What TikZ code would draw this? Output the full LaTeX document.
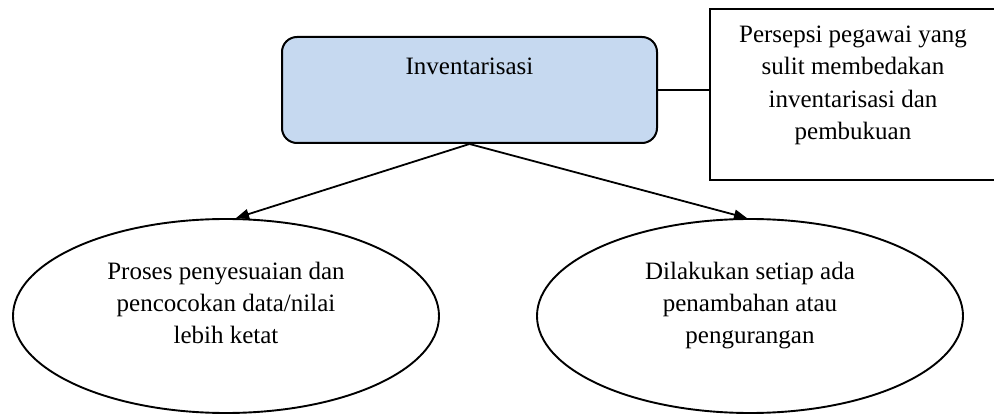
\documentclass[tikz,border=0pt]{standalone}
\usepackage{fontspec}
\setmainfont{Liberation Serif}
\usetikzlibrary{arrows.meta,shapes.geometric,calc}
\definecolor{boxblue}{RGB}{198,217,240}
\begin{document}
\begin{tikzpicture}[x=1pt,y=-1pt,
  every node/.style={font=\fontsize{25}{32.5}\selectfont, inner sep=0pt},
  line/.style={line width=2pt, draw=black},
  arr/.style={line width=1.8pt, draw=black, -{Triangle[length=13pt,width=10pt]}},
  mainbox/.style={rectangle, rounded corners=15pt, draw=black, line width=2pt, fill=boxblue,
    minimum width=375pt, minimum height=106pt, text height=38pt, text depth=68pt},
  notebox/.style={rectangle, minimum width=286pt, align=center, text height=131pt, text depth=40pt},
  oval/.style={ellipse, draw=black, line width=1.9pt, minimum width=426pt, minimum height=194pt,
    align=center, text height=82pt, text depth=26pt}
]
\useasboundingbox (0,0) rectangle (994,414);
\node[mainbox] (inv) at (469.5,90) {Inventarisasi};
\node[notebox] (bx) at (853,94.5) {Persepsi pegawai yang\\sulit membedakan\\inventarisasi dan\\pembukuan};
\draw[line] (bx.north east) -- (bx.north west) -- (bx.south west) -- (bx.south east);
\draw[line] (inv.east) -- (inv.east -| bx.west);
\node[oval] (e1) at (226,316) {Proses penyesuaian dan\\pencocokan data/nilai\\lebih ketat};
\node[oval] (e2) at (750,316) {Dilakukan setiap ada\\penambahan atau\\pengurangan};
\coordinate (t1) at ($(e1.north)+(10,0)$);
\coordinate (t2) at ($(e2.north)+(-3,0)$);
\draw[arr] (inv.south) -- (t1);
\draw[arr] (inv.south) -- (t2);
\end{tikzpicture}
\end{document}
